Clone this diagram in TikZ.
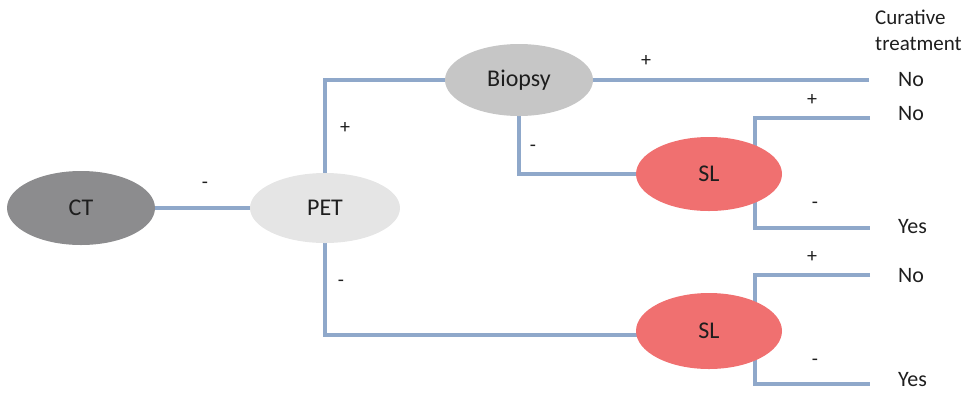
\documentclass[tikz,border=0pt]{standalone}
\usepackage{fontspec}
\setmainfont{Carlito}
\usetikzlibrary{backgrounds,shapes.geometric}
\definecolor{linec}{RGB}{143,168,202}
\definecolor{ctc}{RGB}{140,140,142}
\definecolor{petc}{RGB}{229,229,229}
\definecolor{bioc}{RGB}{198,198,198}
\definecolor{slc}{RGB}{240,112,112}
\definecolor{txt}{RGB}{30,30,30}
\tikzset{
  oval/.style={ellipse, minimum width=#1, inner sep=0pt, font=\fontsize{24}{24}\selectfont, text=txt},
  conn/.style={draw=linec, line width=4pt},
  sign/.style={font=\fontsize{20}{20}\selectfont, text=txt, inner sep=0pt},
  outc/.style={font=\fontsize{22}{22}\selectfont, text=txt, anchor=west, inner sep=0pt},
}
\begin{document}
\begin{tikzpicture}[x=1pt,y=-1pt]
\useasboundingbox (0,0) rectangle (976,392);
\node[oval=148pt, minimum height=74pt, fill=ctc] (CT) at (81,208) {CT};
\node[oval=150pt, minimum height=70pt, fill=petc] (PET) at (325,208) {PET};
\node[oval=148pt, minimum height=72pt, fill=bioc] (BIO) at (519,80) {Biopsy};
\node[oval=146pt, minimum height=74pt, fill=slc] (SL1) at (709,174) {SL};
\node[oval=146pt, minimum height=76pt, fill=slc] (SL2) at (709,331) {SL};
\coordinate (bioend) at (869,80);
\coordinate (s1t) at (755,118);
\coordinate (s1b) at (755,228);
\coordinate (e1t) at (870,118);
\coordinate (e1b) at (870,228);
\coordinate (s2t) at (755,275);
\coordinate (s2b) at (755,384);
\coordinate (e2t) at (870,275);
\coordinate (e2b) at (870,384);
\coordinate (petlow) at (325,335);
\coordinate (sl2in) at (660,335);
\begin{scope}[on background layer]
\draw[conn] (CT.east) -- (PET.west);
\draw[conn] (PET.north) |- (BIO.west);
\draw[conn] (BIO.east) -- (bioend);
\draw[conn] (BIO.south) |- (SL1.west);
\draw[conn] (e1t) -- (s1t) -- (s1b) -- (e1b);
\draw[conn] (PET.south) -- (petlow) -- (sl2in);
\draw[conn] (e2t) -- (s2t) -- (s2b) -- (e2b);
\end{scope}
\node[sign] (m1) at (205,185) {-};
\node[sign] (p1) at (345,128) {+};
\node[sign] (m2) at (341,283) {-};
\node[sign] (p2) at (646,61) {+};
\node[sign] (m3) at (533,148) {-};
\node[sign] (p3) at (812,100) {+};
\node[sign] (m4) at (815,205) {-};
\node[sign] (p4) at (812,257) {+};
\node[sign] (m5) at (815,362) {-};
\node[outc] (no0) at (898,80) {No};
\node[outc] (no1) at (898,114) {No};
\node[outc] (yes1) at (898,227) {Yes};
\node[outc] (no2) at (898,276) {No};
\node[outc] (yes2) at (898,380) {Yes};
\node[font=\fontsize{21}{26}\selectfont, text=txt, anchor=north west, align=left, inner sep=0pt] (cur) at (875,10) {Curative\\treatment};
\end{tikzpicture}
\end{document}
